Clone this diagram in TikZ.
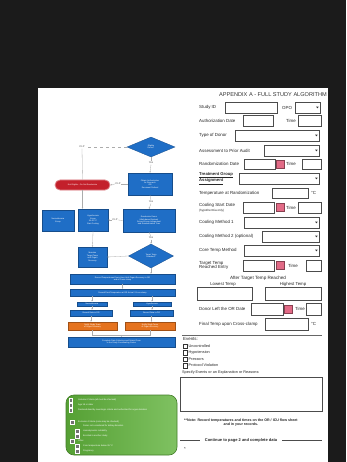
\documentclass[tikz,border=0pt]{standalone}
\usepackage{fontspec}
\setmainfont{Liberation Sans}
\usetikzlibrary{shapes.geometric,arrows.meta}
\definecolor{flowblue}{HTML}{1F6EC6}
\definecolor{flowred}{HTML}{C3202B}
\definecolor{floworange}{HTML}{E5731F}
\definecolor{flowgreen}{HTML}{5FB23A}
\definecolor{pagebg}{HTML}{1B1B1B}
\definecolor{calred}{HTML}{E26A86}
\newcommand\ddarrow[1]{\fill[black!80] ([xshift=-4.6pt,yshift=0.8pt]#1.east) -- ++(2.6,0) -- ++(-1.3,1.6) -- cycle;}
\begin{document}
\begin{tikzpicture}[x=1pt,y=-1pt,
  fbox/.style={draw=flowblue!70!black, fill=flowblue, line width=0.3pt, inner sep=0.4pt, text=white,
     font=\fontsize{2}{2.4}\selectfont, align=center},
  fdia/.style={fbox, diamond},
  obox/.style={fbox, fill=floworange, draw=floworange!70!black},
  conn/.style={draw=gray!65, line width=0.3pt, -{Stealth[length=1.6pt,width=1.3pt]}},
  plain/.style={draw=gray!65, line width=0.3pt},
  lbl/.style={font=\fontsize{2.6}{3}\selectfont, text=gray!60!black, inner sep=0.4pt, fill=white},
  flabel/.style={font=\fontsize{4.4}{4.8}\selectfont, anchor=west, inner sep=0, text=black!85, align=left},
  fld/.style={draw=black!70, line width=0.7pt, fill=white, minimum height=11pt, inner sep=0, anchor=west},
  cal/.style={fill=calred, draw=calred!60!black, line width=0.3pt, minimum size=8pt, inner sep=0},
  cbx/.style={draw=black!80, line width=0.5pt, minimum size=4.5pt, inner sep=0},
  gcb/.style={draw=white, fill=black!55, line width=0.3pt, minimum size=3.6pt, inner sep=0},
  gtxt/.style={font=\fontsize{2.2}{2.6}\selectfont, text=white, anchor=west, inner sep=0}
]
\fill[pagebg] (0,0) rectangle (346,462);
\useasboundingbox (0,0) rectangle (346,462);
\fill[white] (38,88) rectangle (328,462);

% ---------------- title ----------------
\node[font=\fontsize{5.6}{6}\selectfont, anchor=east, inner sep=0, text=black!80] (title) at (327,94.5) {APPENDIX A - FULL STUDY ALGORITHM};

% ---------------- flowchart ----------------
\node[fdia, minimum width=48pt, minimum height=20pt] (d1) at (151,147) {Eligible\\Donor?};
\node[lbl] (clp1) at (82,147) {CLP};
\node[lbl] (y1) at (151,163) {Yes};
\node[fbox, minimum width=44pt, minimum height=22pt] (b2) at (150,184) {Obtain Authorization\\for Research\\OR\\Document Refusal};
\node[fbox, fill=flowred, draw=flowred!55!white, line width=0.8pt, rounded corners=5pt, minimum width=55pt, minimum height=10pt] (red) at (82.5,185) {Not Eligible -- Do Not Randomize};
\node[lbl] (clp2) at (118,184) {CLP};
\node[lbl] (y2) at (151,202) {Yes};
\node[fbox, minimum width=52pt, minimum height=23pt] (b3) at (149,220.5) {Randomize Donor\\(Web-based System)\\Record Group Assignment\\and Randomization Time};
\node[fbox, minimum width=32pt, minimum height=21pt] (left1) at (58,220.5) {Normothermia\\Group};
\node[fbox, minimum width=30pt, minimum height=22pt] (left2) at (93,220) {Hypothermia\\Group\\34--35 °C\\Start Cooling};
\node[lbl] (clp3) at (115,220) {CLP};
\node[lbl] (y3) at (151,238) {Yes};
\node[fbox, minimum width=29pt, minimum height=20pt] (left3) at (92.5,257) {Maintain\\Target Temp\\until Organ\\Recovery};
\node[fdia, minimum width=45pt, minimum height=24pt] (d2) at (151,256) {Target Temp\\Reached?};
\node[fbox, minimum width=105pt, minimum height=10pt] (bar1) at (122.5,279) {Record Temperatures Every Hour Until Organ Recovery in OR\\and at Cross-clamp};
\node[fbox, minimum width=105pt, minimum height=7pt] (bar2) at (122.5,292.5) {Record Final Temperature at OR Arrival / Cross-clamp};
\node[fbox, minimum width=30pt, minimum height=4.5pt] (sL1) at (92,304) {Normothermia};
\node[fbox, minimum width=38pt, minimum height=4.5pt] (sR1) at (152,304) {Hypothermia};
\node[fbox, minimum width=42pt, minimum height=6pt] (sL2) at (91,313) {Record Data in OR};
\node[fbox, minimum width=43pt, minimum height=6pt] (sR2) at (151.5,313) {Record Data in OR};
\node[obox, minimum width=49pt, minimum height=8pt] (oL) at (92.5,326) {Notify Study Team\\of Organ Recovery};
\node[obox, minimum width=50pt, minimum height=8pt] (oR) at (150,326) {Notify Study Team\\of Organ Recovery};
\node[fbox, minimum width=107pt, minimum height=10pt] (bot) at (121.5,342) {Complete Data Collection and Submit Form\\to the Study Coordinating Center};

% connectors
\draw[plain, dashed] (d1.west) -- (clp1.east);
\draw[plain] (clp1.south) -- (red.north);
\draw[conn] (red.south) -- (red.south |- left2.north);
\draw[plain] (d1.south) -- (y1.north);
\draw[conn] (y1.south) -- (b2.north);
\draw[plain] (b2.west) -- (clp2.east);
\draw[conn] (clp2.west) -- (red.east);
\draw[plain] (b2.south) -- (y2.north);
\draw[conn] (y2.south) -- (b3.north);
\draw[plain] (b3.west) -- (clp3.east);
\draw[conn] (clp3.west) -- (left2.east);
\draw[plain] (b3.south) -- (y3.north);
\draw[conn] (y3.south) -- (d2.north);
\draw[conn] (left2.south) -- (left3.north);
\draw[conn] (d2.west) -- (left3.east);
\draw[conn] (d2.south) -- (d2.south |- bar1.north);
\draw[conn] (bar1.south) -- (bar1.south |- bar2.north);
\draw[conn] (bar2.south -| sL1.north) -- (sL1.north);
\draw[conn] (bar2.south -| sR1.north) -- (sR1.north);
\draw[conn] (sL1.south) -- (sL1.south |- sL2.north);
\draw[conn] (sR1.south) -- (sR1.south |- sR2.north);
\draw[conn] (sL2.south) -- (sL2.south |- oL.north);
\draw[conn] (sR2.south) -- (sR2.south |- oR.north);
\coordinate (mrg) at (122,335);
\draw[plain] (oL.south) |- (mrg);
\draw[plain] (oR.south) |- (mrg);
\draw[conn] (mrg) -- (bot.north);

% green criteria box
\node[draw=flowgreen!70!black, line width=0.6pt, rounded corners=8pt, left color=flowgreen!90!black, right color=flowgreen!80!white, minimum width=111pt, minimum height=60pt, inner sep=0] (green) at (121.5,425) {};
\node[gcb] (g1) at (70.5,400) {};
\node[gcb] (g2) at (70.5,405) {};
\node[gcb] (g3) at (70.5,410) {};
\node[gtxt] (t1) at (78,399.5) {Inclusion Criteria (all must be checked)};
\node[gtxt] (t2) at (78,405) {Age 18 or older};
\node[gtxt] (t3) at (78,410) {Declared dead by neurologic criteria and authorized for organ donation};
\node[gcb] (g4) at (72,422) {};
\node[gtxt] (t4) at (78,421.5) {Exclusion Criteria (none may be checked)};
\node[gcb] (g5) at (77,431) {};
\node[gcb] (g6) at (77,436) {};
\node[gtxt] (t5) at (83,426) {Donor not considered for kidney donation};
\node[gtxt] (t6) at (83,431) {Hemodynamic instability};
\node[gtxt] (t7) at (83,436) {Enrolled in another study};
\node[gcb] (g7) at (72,441) {};
\node[gtxt] (t8) at (78,441) {Other};
\node[gcb] (g8) at (77,446) {};
\node[gcb] (g9) at (77,451) {};
\node[gtxt] (t9) at (83,446) {Core temperature below 35 °C};
\node[gtxt] (t10) at (83,451) {Pregnancy};

% ---------------- form ----------------
\node[flabel] (l1) at (199,107.5) {Study ID};
\node[fld, minimum width=52pt] (f1) at (225,107.5) {};
\node[flabel] (l1b) at (282,107.5) {OPO};
\node[fld, minimum width=25pt] (f1b) at (295,107.5) {};
\ddarrow{f1b}

\node[flabel] (l2) at (199,120.5) {Authorization Date};
\node[fld, minimum width=30pt] (f2) at (243,120.5) {};
\node[flabel] (l2b) at (286,120.5) {Time};
\node[fld, minimum width=23pt] (f2b) at (298,120.5) {};

\node[flabel] (l3) at (199,135.5) {Type of Donor};
\node[fld, minimum width=84pt] (f3) at (235,135.5) {};
\ddarrow{f3}

\node[flabel] (l4) at (199,150.5) {Assessment to Prior Audit};
\node[fld, minimum width=55pt] (f4) at (264,150.5) {};
\ddarrow{f4}

\node[flabel] (l5) at (199,164) {Randomization Date};
\node[fld, minimum width=31pt, minimum height=10pt] (f5) at (244,164) {};
\node[cal] (c5) at (280,164) {};
\node[flabel] (l5b) at (286,164) {Time};
\node[fld, minimum width=19pt, minimum height=10pt] (f5b) at (302,164) {};

\node[flabel, font=\fontsize{4.2}{4.5}\selectfont\bfseries] (l6) at (199,178.5) {\underline{Treatment Group}\\\underline{Assignment}};
\node[fld, minimum width=80pt] (f6) at (239,178.5) {};
\ddarrow{f6}

\node[flabel] (l7) at (199,193) {Temperature at Randomization};
\node[fld, minimum width=36pt, minimum height=10pt] (f7) at (272,193) {};
\node[flabel] (l7b) at (311,193) {°C};

\node[flabel] (l8) at (199,207.5) {Cooling Start Date\\{\fontsize{3}{3.2}\selectfont (hypothermia only)}};
\node[fld, minimum width=31pt] (f8) at (243,207.5) {};
\node[cal] (c8) at (280,207.5) {};
\node[flabel] (l8b) at (286,207.5) {Time};
\node[fld, minimum width=23pt] (f8b) at (298,207.5) {};

\node[flabel] (l9) at (199,222.5) {Cooling Method 1};
\node[fld, minimum width=75pt] (f9) at (244,222.5) {};
\ddarrow{f9}

\node[flabel] (l10) at (199,236.5) {Cooling Method 2 (optional)};
\node[fld, minimum width=57pt] (f10) at (262,236.5) {};
\ddarrow{f10}

\node[flabel] (l11) at (199,250.5) {Core Temp Method};
\node[fld, minimum width=75pt] (f11) at (244,250.5) {};
\ddarrow{f11}

\node[flabel] (l12) at (199,265.5) {Target Temp\\Reached Entry};
\node[fld, minimum width=31pt] (f12) at (243,265.5) {};
\node[cal] (c12) at (280,265.5) {};
\node[flabel] (l12b) at (288,265.5) {Time};
\node[fld, minimum width=15pt] (f12b) at (306,265.5) {};

\node[font=\fontsize{4.6}{5}\selectfont, inner sep=0, text=black!85] (l13) at (258,278) {After Target Temp Reached};
\node[font=\fontsize{4.3}{4.6}\selectfont, inner sep=0, text=black!85] (l13a) at (223,284.5) {Lowest Temp};
\node[font=\fontsize{4.3}{4.6}\selectfont, inner sep=0, text=black!85] (l13b) at (293,284.5) {Highest Temp};
\node[fld, minimum width=55pt, minimum height=13pt] (f13a) at (197,293.5) {};
\node[fld, minimum width=56pt, minimum height=13pt] (f13b) at (265,293.5) {};

\node[flabel] (l14) at (199,309) {Donor Left the OR Date};
\node[fld, minimum width=32pt, minimum height=12pt] (f14) at (251,309) {};
\node[cal] (c14) at (288,309) {};
\node[flabel] (l14b) at (295,309) {Time};
\node[fld, minimum width=15pt, minimum height=12pt] (f14b) at (306,309) {};

\node[flabel] (l15) at (199,324) {Final Temp upon Cross-clamp};
\node[fld, minimum width=43pt, minimum height=12pt] (f15) at (265,324) {};
\node[flabel] (l15b) at (311,324) {°C};

\draw[black!60, line width=0.6pt] (182,335) -- (322,335);

\node[flabel] (ev) at (183,339.5) {Events:};
\node[cbx] (k1) at (185,346) {};
\node[cbx] (k2) at (185,352.5) {};
\node[cbx] (k3) at (185,359) {};
\node[cbx] (k4) at (185,365.5) {};
\node[flabel, font=\fontsize{3.8}{4.2}\selectfont] (e1) at (188.5,346) {Uncontrolled};
\node[flabel, font=\fontsize{3.8}{4.2}\selectfont] (e2) at (188.5,352.5) {Hypotension};
\node[flabel, font=\fontsize{3.8}{4.2}\selectfont] (e3) at (188.5,359) {Pressors};
\node[flabel, font=\fontsize{3.8}{4.2}\selectfont] (e4) at (188.5,365.5) {Protocol Violation};

\node[flabel, font=\fontsize{3.8}{4.2}\selectfont] (sp) at (182,373) {Specify Events or an Explanation or Reasons:};
\node[draw=black!70, line width=0.8pt, minimum width=142pt, minimum height=34pt, inner sep=0] (big) at (251,394) {};

\node[flabel, font=\fontsize{3.6}{4.2}\selectfont\bfseries, align=center, anchor=north west] (note) at (184,418.5) {**Note: Record temperatures and times on the OR / ICU flow sheet\\and in your records.};

\node[font=\fontsize{4}{4.2}\selectfont\bfseries, inner sep=0, text=black!85] (cont) at (241,440) {Continue to page 2 and complete data};
\coordinate (cl1) at (180,440);
\coordinate (cr2) at (322,440);
\draw[black!70, line width=0.5pt] (cl1) -- ([xshift=-5pt]cont.west);
\draw[black!70, line width=0.5pt] ([xshift=5pt]cont.east) -- (cr2);
\node[flabel] (star) at (184,449) {*};
\end{tikzpicture}
\end{document}
